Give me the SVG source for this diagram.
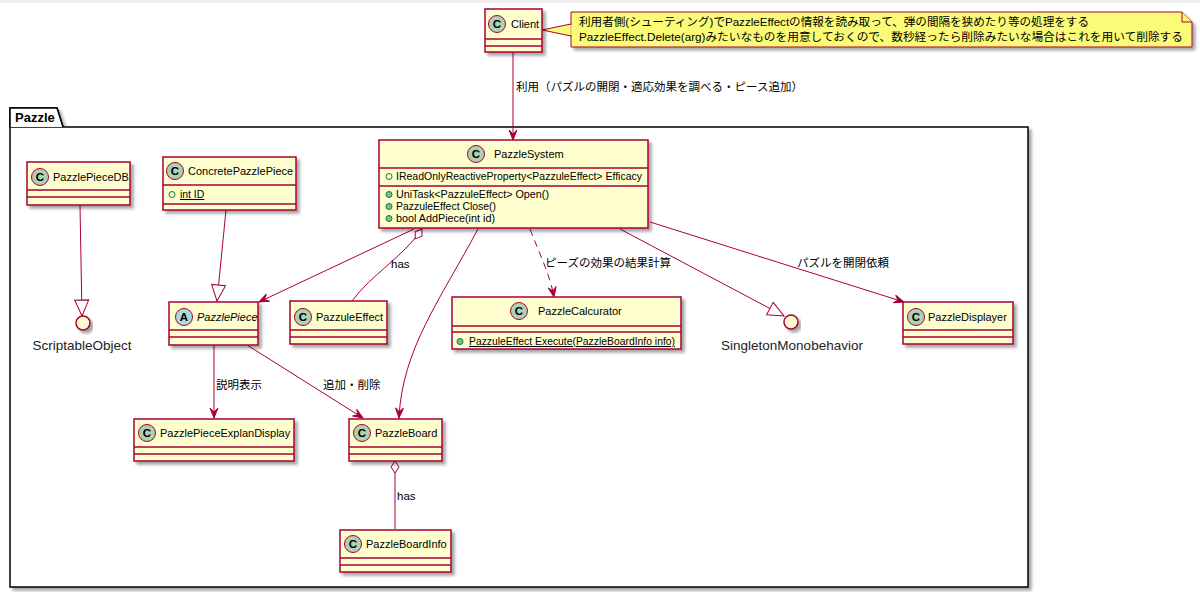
<svg xmlns="http://www.w3.org/2000/svg" width="1200" height="592" viewBox="0 0 1200 592">
<defs>
<filter id="sh" x="-10%" y="-10%" width="130%" height="140%">
<feDropShadow dx="3" dy="3" stdDeviation="1.8" flood-color="#000" flood-opacity="0.35"/>
</filter>
<marker id="arr" markerUnits="userSpaceOnUse" markerWidth="12" markerHeight="10" refX="10" refY="4" orient="auto" overflow="visible">
<path d="M0,0 L10,4 L0,8 L4,4 Z" fill="#A80036" stroke="#A80036" stroke-width="1"/>
</marker>
<marker id="tri" markerUnits="userSpaceOnUse" markerWidth="18" markerHeight="16" refX="16" refY="7" orient="auto" overflow="visible">
<path d="M0,0 L16,7 L0,14 Z" fill="#FFFFFF" stroke="#A80036" stroke-width="1"/>
</marker>
<marker id="dia" markerUnits="userSpaceOnUse" markerWidth="14" markerHeight="10" refX="0" refY="4" orient="auto" overflow="visible">
<path d="M0,4 L6,0 L12,4 L6,8 Z" fill="#FFFFFF" stroke="#A80036" stroke-width="1"/>
</marker>
</defs>
<style>
text{font-family:"Liberation Sans","Noto Sans CJK JP",sans-serif;fill:#000}
.box{fill:#FEFECE;stroke:#A80036;stroke-width:1.5;filter:url(#sh)}
.sep{stroke:#A80036;stroke-width:1.5}
.cc{fill:#ADD1B2;stroke:#A80036;stroke-width:1}
.ca{fill:#A9DCDF;stroke:#A80036;stroke-width:1}
.cl{font-size:11.5px;font-weight:bold;text-anchor:middle}
.nm{font-size:11px}
.mb{font-size:10.4px}
.lb{font-size:11.5px}
.fld{fill:none;stroke:#038048;stroke-width:1}
.mth{fill:#84BE84;stroke:#038048;stroke-width:1}
.ln{fill:none;stroke:#A80036;stroke-width:1}
.ifc{fill:#FEFECE;stroke:#A80036;stroke-width:1.5;filter:url(#sh)}
.ifl{font-size:13.5px;fill:#222;text-anchor:middle}
</style>
<rect x="0" y="0" width="1200" height="592" fill="#FFFFFF"/>
<rect x="0" y="0" width="1200" height="3" fill="#EEEEEE"/>

<g id="package-pazzle">
<path d="M10,127 L10,108 L57,108 L63,127" fill="#FFFFFF" stroke="#000" stroke-width="1.5" filter="url(#sh)"/>
<rect x="10" y="127" width="1018" height="460" fill="#FFFFFF" stroke="#000" stroke-width="1.5" filter="url(#sh)"/>
<path d="M10,127 L10,108 L57,108 L63,127" fill="#FFFFFF" stroke="#000" stroke-width="1.5"/>
<text x="15" y="122" style="font-size:13px;font-weight:bold">Pazzle</text>
</g>

<g id="connectors">
<path class="ln" d="M513,52 L513,140" marker-end="url(#arr)"/>
<text class="lb" x="516" y="91">利用（パズルの開閉・適応効果を調べる・ピース追加）</text>
<path class="ln" d="M80,205 L82,316" marker-end="url(#tri)"/>
<path class="ln" d="M226,210 L217,301" marker-end="url(#tri)"/>
<path class="ln" d="M414,229 L259,302" marker-end="url(#arr)"/>
<path class="ln" d="M422,229 C402,258 372,274 352,301" marker-start="url(#dia)"/>
<text class="lb" x="391" y="268">has</text>
<path class="ln" d="M478,229 C440,300 402,350 399,418" marker-end="url(#arr)"/>
<path class="ln" d="M530,229 C540,255 550,275 554,297" stroke-dasharray="7,5" marker-end="url(#arr)"/>
<text class="lb" x="545" y="267">ピーズの効果の結果計算</text>
<path class="ln" d="M620,229 L784,316" marker-end="url(#tri)"/>
<path class="ln" d="M650,222 L904,302" marker-end="url(#arr)"/>
<text class="lb" x="797" y="267">パズルを開閉依頼</text>
<path class="ln" d="M214,345 L214,418" marker-end="url(#arr)"/>
<text class="lb" x="216" y="389">説明表示</text>
<path class="ln" d="M247,345 L363,418" marker-end="url(#arr)"/>
<text class="lb" x="323" y="389">追加・削除</text>
<path class="ln" d="M395,461 L395,529" marker-start="url(#dia)"/>
<text class="lb" x="397" y="500">has</text>
<path d="M542,30 L571,24 L571,36 Z" fill="#FBFB77" stroke="#A80036" stroke-width="1"/>
</g>

<g id="client">
<rect class="box" x="485" y="9" width="57" height="43"/>
<circle class="cc" cx="497" cy="24" r="8.5"/>
<text class="cl" x="497" y="28">C</text>
<text class="nm" x="511" y="28">Client</text>
<line class="sep" x1="485" y1="39" x2="542" y2="39"/>
<line class="sep" x1="485" y1="46" x2="542" y2="46"/>
</g>

<g id="note">
<path d="M571,12 L1182,12 L1192,22 L1192,47 L571,47 Z" fill="#FBFB77" stroke="#A80036" stroke-width="1" filter="url(#sh)"/>
<path d="M1182,12 L1182,22 L1192,22" fill="#FBFB77" stroke="#A80036" stroke-width="1"/>
<line x1="571" y1="25" x2="571" y2="35" stroke="#FBFB77" stroke-width="1.5"/>
<text class="lb" x="579" y="26" textLength="510" lengthAdjust="spacingAndGlyphs">利用者側(シューティング)でPazzleEffectの情報を読み取って、弾の間隔を狭めたり等の処理をする</text>
<text class="lb" x="579" y="41" textLength="604" lengthAdjust="spacingAndGlyphs">PazzleEffect.Delete(arg)みたいなものを用意しておくので、数秒経ったら削除みたいな場合はこれを用いて削除する</text>
</g>

<g id="pazzle-system">
<rect class="box" x="379" y="140" width="269" height="88"/>
<circle class="cc" cx="476" cy="154" r="8.5"/>
<text class="cl" x="476" y="158">C</text>
<text class="nm" x="494" y="158">PazzleSystem</text>
<line class="sep" x1="379" y1="168" x2="648" y2="168"/>
<circle class="fld" cx="389" cy="176.5" r="3"/>
<text class="mb" x="396" y="180" textLength="246" lengthAdjust="spacingAndGlyphs">IReadOnlyReactiveProperty&lt;PazzuleEffect&gt; Efficacy</text>
<line class="sep" x1="379" y1="186" x2="648" y2="186"/>
<circle class="mth" cx="389" cy="194.5" r="3"/>
<text class="mb" x="396" y="198" textLength="153" lengthAdjust="spacingAndGlyphs">UniTask&lt;PazzuleEffect&gt; Open()</text>
<circle class="mth" cx="389" cy="206.5" r="3"/>
<text class="mb" x="396" y="210" textLength="100" lengthAdjust="spacingAndGlyphs">PazzuleEffect Close()</text>
<circle class="mth" cx="389" cy="218.5" r="3"/>
<text class="mb" x="396" y="222" textLength="99" lengthAdjust="spacingAndGlyphs">bool AddPiece(int id)</text>
</g>

<g id="pazzle-piece-db">
<rect class="box" x="27" y="162" width="103" height="43"/>
<circle class="cc" cx="40" cy="177" r="8.5"/>
<text class="cl" x="40" y="181">C</text>
<text class="nm" x="53" y="181">PazzlePieceDB</text>
<line class="sep" x1="27" y1="190" x2="130" y2="190"/>
<line class="sep" x1="27" y1="197" x2="130" y2="197"/>
</g>

<g id="concrete-pazzle-piece">
<rect class="box" x="163" y="157" width="133" height="53"/>
<circle class="cc" cx="175" cy="171" r="8.5"/>
<text class="cl" x="175" y="175">C</text>
<text class="nm" x="188" y="175">ConcretePazzlePiece</text>
<line class="sep" x1="163" y1="185" x2="296" y2="185"/>
<circle class="fld" cx="172" cy="194.5" r="3"/>
<text class="mb" x="180" y="198" text-decoration="underline">int ID</text>
<line class="sep" x1="163" y1="204" x2="296" y2="204"/>
</g>

<g id="scriptable-object">
<circle class="ifc" cx="83" cy="323" r="7"/>
<text class="ifl" x="82" y="350">ScriptableObject</text>
</g>

<g id="pazzle-piece">
<rect class="box" x="169" y="302" width="89" height="43"/>
<circle class="ca" cx="184" cy="317" r="8.5"/>
<text class="cl" x="184" y="321">A</text>
<text class="nm" x="197" y="321" font-style="italic">PazzlePiece</text>
<line class="sep" x1="169" y1="330" x2="258" y2="330"/>
<line class="sep" x1="169" y1="337" x2="258" y2="337"/>
</g>

<g id="pazzule-effect">
<rect class="box" x="290" y="301" width="97" height="43"/>
<circle class="cc" cx="303" cy="317" r="8.5"/>
<text class="cl" x="303" y="321">C</text>
<text class="nm" x="316" y="321">PazzuleEffect</text>
<line class="sep" x1="290" y1="330" x2="387" y2="330"/>
<line class="sep" x1="290" y1="337" x2="387" y2="337"/>
</g>

<g id="pazzle-calcurator">
<rect class="box" x="452" y="297" width="229" height="52"/>
<circle class="cc" cx="519" cy="311" r="8.5"/>
<text class="cl" x="519" y="315">C</text>
<text class="nm" x="538" y="315">PazzleCalcurator</text>
<line class="sep" x1="452" y1="326" x2="681" y2="326"/>
<line class="sep" x1="452" y1="332" x2="681" y2="332"/>
<circle class="mth" cx="460" cy="341.5" r="3"/>
<text class="mb" x="469" y="345" textLength="206" lengthAdjust="spacingAndGlyphs" text-decoration="underline">PazzuleEffect Execute(PazzleBoardInfo info)</text>
</g>

<g id="singleton-monobehavior">
<circle class="ifc" cx="791" cy="322" r="7"/>
<text class="ifl" x="792" y="350">SingletonMonobehavior</text>
</g>

<g id="pazzle-displayer">
<rect class="box" x="903" y="302" width="110" height="42"/>
<circle class="cc" cx="916" cy="317" r="8.5"/>
<text class="cl" x="916" y="321">C</text>
<text class="nm" x="928" y="321">PazzleDisplayer</text>
<line class="sep" x1="903" y1="330" x2="1013" y2="330"/>
<line class="sep" x1="903" y1="337" x2="1013" y2="337"/>
</g>

<g id="pazzle-piece-explan-display">
<rect class="box" x="134" y="419" width="160" height="42"/>
<circle class="cc" cx="147" cy="433" r="8.5"/>
<text class="cl" x="147" y="437">C</text>
<text class="nm" x="160" y="437">PazzlePieceExplanDisplay</text>
<line class="sep" x1="134" y1="447" x2="294" y2="447"/>
<line class="sep" x1="134" y1="454" x2="294" y2="454"/>
</g>

<g id="pazzle-board">
<rect class="box" x="349" y="419" width="93" height="42"/>
<circle class="cc" cx="362" cy="433" r="8.5"/>
<text class="cl" x="362" y="437">C</text>
<text class="nm" x="375" y="437">PazzleBoard</text>
<line class="sep" x1="349" y1="447" x2="442" y2="447"/>
<line class="sep" x1="349" y1="454" x2="442" y2="454"/>
</g>

<g id="pazzle-board-info">
<rect class="box" x="340" y="530" width="111" height="42"/>
<circle class="cc" cx="353" cy="544" r="8.5"/>
<text class="cl" x="353" y="548">C</text>
<text class="nm" x="366" y="548">PazzleBoardInfo</text>
<line class="sep" x1="340" y1="558" x2="451" y2="558"/>
<line class="sep" x1="340" y1="565" x2="451" y2="565"/>
</g>
</svg>
